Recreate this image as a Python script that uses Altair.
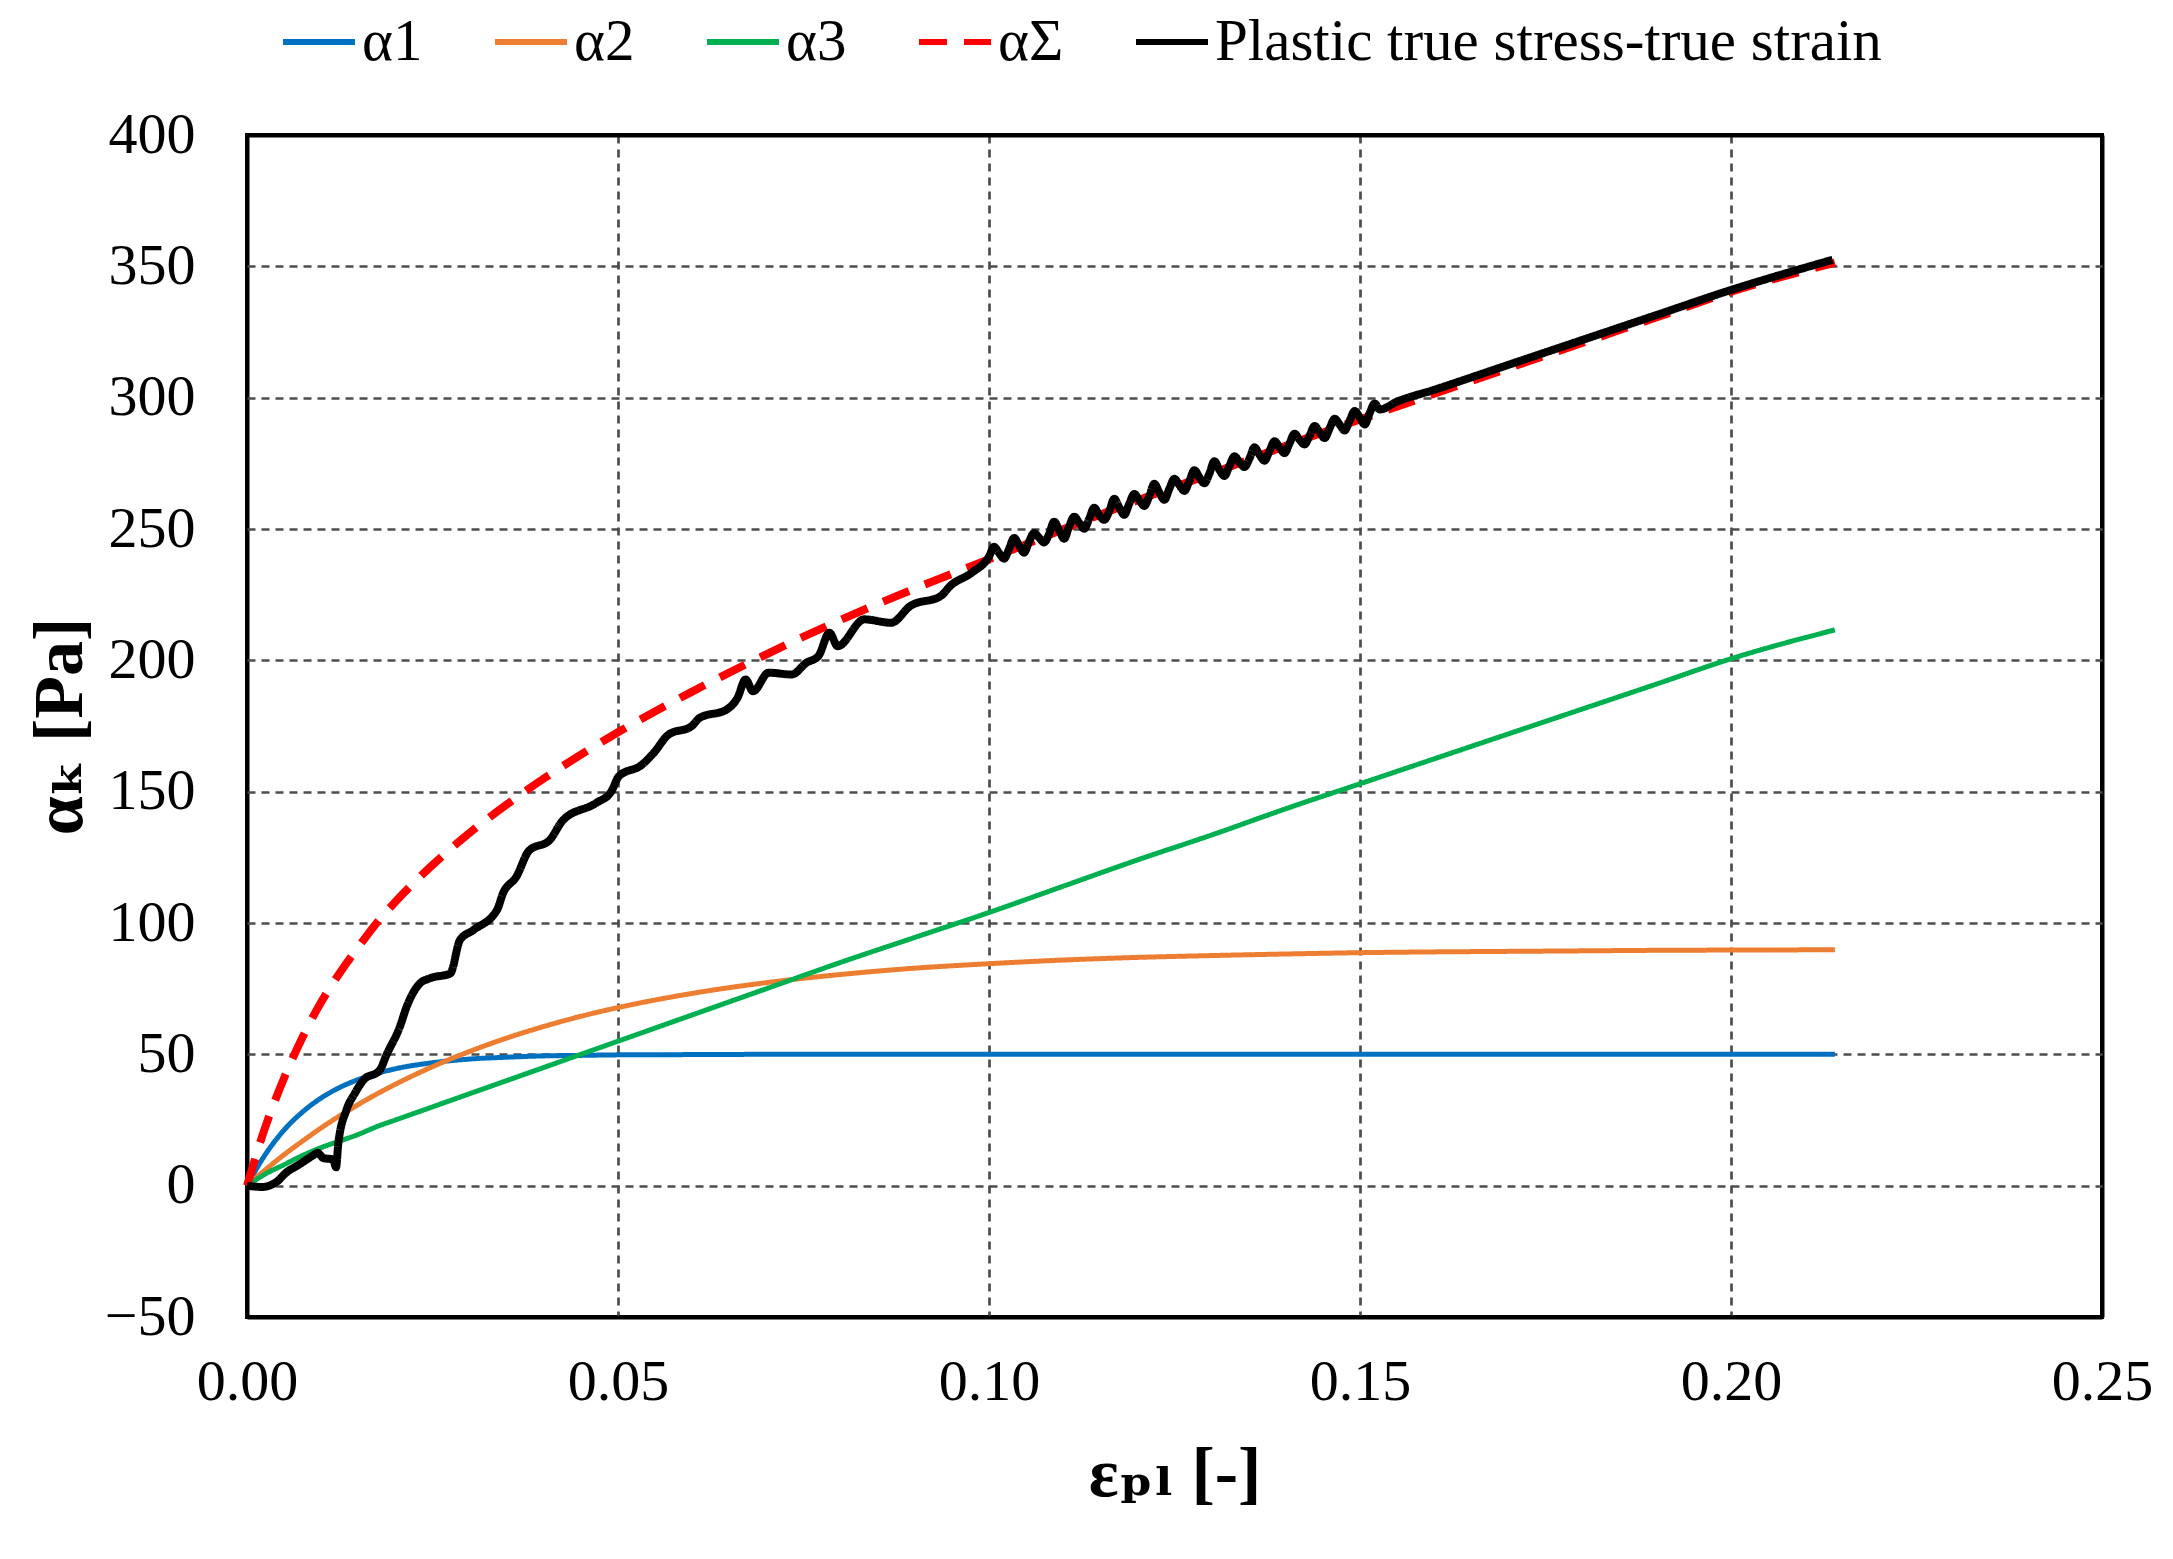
import altair as alt
import pandas as pd

SERIES = ["α1", "α2", "α3", "αΣ", "Plastic true stress-true strain"]
COLORS = ["#0070C0", "#ED7D31", "#00B050", "#FF0000", "#000000"]
DASHES = [[1, 0], [1, 0], [1, 0], [28, 17], [1, 0]]
WIDTHS = [5, 5, 5, 8, 8]

X_TICKS = [0, 0.05, 0.10, 0.15, 0.20, 0.25]
Y_TICKS = [-50, 0, 50, 100, 150, 200, 250, 300, 350, 400]

# model curves
X_GRID = [0, 0.0025, 0.005, 0.0075, 0.01, 0.0125, 0.015, 0.0175, 0.02, 0.025, 0.03,
          0.035, 0.04, 0.045, 0.05, 0.06, 0.07, 0.08, 0.09, 0.10, 0.11, 0.12, 0.13,
          0.14, 0.15, 0.16, 0.17, 0.18, 0.19, 0.20, 0.214]
A1 = [0, 12.0, 21.2, 28.1, 33.4, 37.4, 40.4, 42.7, 44.5, 46.8, 48.2,
      48.9, 49.4, 49.6, 49.8, 49.9, 50.0, 50.0, 50.0, 50.0, 50.0, 50.0, 50.0,
      50.0, 50.0, 50.0, 50.0, 50.0, 50.0, 50.0, 50.0]
A2 = [0, 6.1, 11.8, 17.0, 22.0, 26.6, 30.9, 34.9, 38.6, 45.3, 51.1,
      56.2, 60.6, 64.5, 67.8, 73.2, 77.3, 80.4, 82.8, 84.5, 85.9, 86.9, 87.6,
      88.2, 88.7, 89.0, 89.2, 89.4, 89.6, 89.7, 89.8]
A3 = [0, 4.5, 8.0, 11.5, 14.5, 17.0, 19.5, 22.5, 25.0, 30.0, 35.0,
      40.0, 45.0, 50.0, 55.0, 65.0, 75.0, 85.0, 94.5, 104.0, 114.0, 124.0, 133.5,
      143.5, 153.0, 162.5, 172.0, 181.5, 191.0, 200.6, 211.6]
ASUM = [0, 22.6, 41.0, 56.6, 69.9, 81.0, 90.8, 100.1, 108.1, 122.1, 134.3,
        145.1, 155.0, 164.1, 172.6, 188.1, 202.3, 215.4, 227.3, 238.5, 249.9, 260.9, 271.1,
        281.7, 291.7, 301.5, 311.2, 320.9, 330.6, 340.3, 351.4]

# experimental plastic true stress - true strain curve
EXP_X = [0, 0.002, 0.004, 0.0053, 0.007, 0.0089, 0.0095, 0.0103, 0.0116, 0.0120,
         0.0123, 0.0134, 0.0145, 0.0157, 0.0179, 0.0188, 0.0206, 0.0215, 0.0233, 0.0247,
         0.0274, 0.0287, 0.0305, 0.0337, 0.0345, 0.0363, 0.0380, 0.0408, 0.0426, 0.0470,
         0.0491, 0.0501, 0.0532, 0.0548, 0.0568, 0.0599, 0.0610, 0.0646, 0.0661, 0.0672,
         0.0682, 0.0703, 0.0734, 0.0754, 0.0770, 0.0785, 0.0796, 0.0832, 0.0868, 0.0894,
         0.0935, 0.0948, 0.0977,
         0.10000, 0.10068, 0.10135, 0.10203, 0.10270, 0.10338, 0.10405, 0.10473, 0.10540,
         0.10608, 0.10675, 0.10743, 0.10810, 0.10878, 0.10945, 0.11013, 0.11080, 0.11148,
         0.11215, 0.11283, 0.11350, 0.11418, 0.11485, 0.11553, 0.11620, 0.11688, 0.11755,
         0.11823, 0.11890, 0.11958, 0.12025, 0.12093, 0.12160, 0.12228, 0.12295, 0.12363,
         0.12430, 0.12498, 0.12565, 0.12633, 0.12700, 0.12768, 0.12835, 0.12903, 0.12970,
         0.13038, 0.13105, 0.13173, 0.13240, 0.13308, 0.13375, 0.13443, 0.13510, 0.13578,
         0.13645, 0.13713, 0.13780, 0.13848, 0.13915, 0.13983, 0.14050, 0.14118, 0.14185,
         0.14253, 0.14320, 0.14388, 0.14455, 0.14523, 0.14590, 0.14658, 0.14725, 0.14793,
         0.14860, 0.14928, 0.14995, 0.15063, 0.15130, 0.15198, 0.15265,
         0.155, 0.160, 0.170, 0.180, 0.190, 0.200, 0.210, 0.2137]
EXP_Y = [0, -0.5, 1.5, 5.0, 8.0, 11.5, 12.5, 10.5, 10.0, 7.0,
         16.0, 28.8, 35.0, 40.2, 44.0, 49.8, 60.5, 68.0, 77.0, 79.0,
         80.8, 93.5, 97.3, 105.0, 111.3, 117.6, 127.5, 131.6, 139.2, 145.6,
         150.1, 155.8, 160.2, 164.7, 171.7, 174.9, 178.1, 181.2, 185.7, 192.7,
         188.2, 195.3, 194.6, 199.1, 201.6, 210.5, 205.4, 215.6, 214.3, 220.7,
         224.5, 228.4, 233.4,
         239.5, 243.2, 240.9, 238.7, 242.4, 246.6, 243.8, 241.0, 245.2,
         248.5, 246.7, 244.9, 248.1, 252.8, 249.6, 246.3, 251.0, 254.7,
         252.4, 250.1, 253.9, 258.1, 255.3, 253.5, 256.7, 261.5, 258.2,
         255.4, 259.6, 263.3, 261.0, 258.8, 262.5, 267.2, 263.9, 261.1,
         265.3, 269.1, 266.8, 264.5, 268.2, 272.4, 269.7, 267.4, 271.1,
         275.8, 272.5, 270.2, 274.0, 277.7, 275.4, 273.6, 276.8, 281.1,
         278.3, 276.0, 279.7, 283.4, 281.1, 278.9, 282.6, 286.3, 284.0,
         282.2, 285.5, 289.2, 286.9, 284.6, 288.3, 292.0, 289.8, 287.5,
         291.2, 294.9, 292.6, 289.8, 294.1, 297.8, 295.5,
         298.5, 303.0, 312.5, 322.0, 331.5, 341.0, 349.5, 352.5]

rows = []
for name, xs, ys in [(SERIES[0], X_GRID, A1), (SERIES[1], X_GRID, A2),
                     (SERIES[2], X_GRID, A3), (SERIES[3], X_GRID, ASUM),
                     (SERIES[4], EXP_X, EXP_Y)]:
    for i, (xv, yv) in enumerate(zip(xs, ys)):
        rows.append({"series": name, "eps": xv, "alpha": yv, "idx": i})
df = pd.DataFrame(rows)

edge_x = "datum.value <= 0 || datum.value >= 0.25"
edge_y = "datum.value <= -50 || datum.value >= 400"

x_axis = alt.Axis(
    values=X_TICKS, format=".2f", title="εₚₗ [-]", labelFlush=False,
    gridColor={"condition": {"test": edge_x, "value": "black"}, "value": "#4d4d4d"},
    gridDash={"condition": {"test": edge_x, "value": []}, "value": [8, 6]},
    gridWidth={"condition": {"test": edge_x, "value": 4}, "value": 2.7},
)
y_axis = alt.Axis(
    values=Y_TICKS, format="d", title="αₖ [Pa]", labelFlush=False,
    gridColor={"condition": {"test": edge_y, "value": "black"}, "value": "#4d4d4d"},
    gridDash={"condition": {"test": edge_y, "value": []}, "value": [8, 6]},
    gridWidth={"condition": {"test": edge_y, "value": 4}, "value": 2.7},
)

base = alt.Chart(df).encode(
    x=alt.X("eps:Q", scale=alt.Scale(domain=[0, 0.25], nice=False, zero=False), axis=x_axis),
    y=alt.Y("alpha:Q", scale=alt.Scale(domain=[-50, 400], nice=False, zero=False), axis=y_axis),
    color=alt.Color("series:N", scale=alt.Scale(domain=SERIES, range=COLORS),
                    legend=alt.Legend(title=None)),
    strokeDash=alt.StrokeDash("series:N", scale=alt.Scale(domain=SERIES, range=DASHES),
                              legend=alt.Legend(title=None)),
    order=alt.Order("idx:Q"),
)

layers = []
for s, w in zip(SERIES, WIDTHS):
    layers.append(
        base.transform_filter(alt.datum.series == s)
        .mark_line(strokeWidth=w, interpolate="monotone", strokeJoin="round")
    )

SERIF = "Liberation Serif, DejaVu Serif, serif"

chart = alt.layer(*layers).properties(
    width=1855, height=1182,
    autosize=alt.AutoSizeParams(type="none"),
    padding={"left": 247, "top": 135, "right": 71, "bottom": 242},
    background="white",
).configure_view(
    stroke="black", strokeWidth=4
).configure_axis(
    labelFont=SERIF, labelFontSize=58, labelColor="black",
    titleFont=SERIF, titleFontSize=70, titleFontWeight="bold", titleColor="black",
    ticks=False, domain=False,
    grid=True, gridOpacity=1,
).configure_axisX(
    labelPadding=36, titlePadding=29,
).configure_axisY(
    labelPadding=52, titlePadding=8,
).configure_legend(
    orient="none", legendX=33, legendY=-132, direction="horizontal",
    symbolType="stroke", symbolSize=5184, symbolStrokeWidth=6,
    labelFont=SERIF, labelFontSize=59, labelColor="black",
    labelOffset=4, columnPadding=60, padding=0, labelLimit=0,
)

chart.save("out.html", embed_options={"renderer": "svg", "actions": False})
